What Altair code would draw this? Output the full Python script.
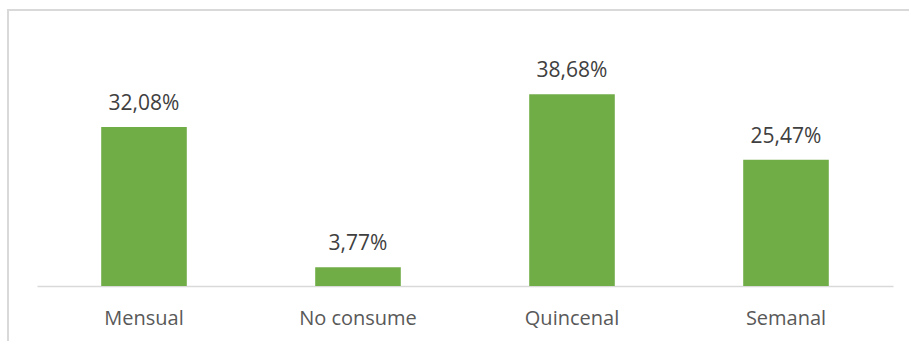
import altair as alt
import pandas as pd

categories = ["Mensual", "No consume", "Quincenal", "Semanal"]
values = [32.08, 3.77, 38.68, 25.47]
labels = ["32,08%", "3,77%", "38,68%", "25,47%"]

df = pd.DataFrame({"cat": categories, "val": values, "lab": labels})

FONT = "Open Sans"

x = alt.X("cat:N", sort=categories, title=None,
          scale=alt.Scale(paddingInner=0.6, paddingOuter=0.3),
          axis=alt.Axis(labelAngle=0, ticks=False, domainColor="#D9D9D9",
                        domainWidth=1.5, labelFont=FONT, labelFontSize=20,
                        labelColor="#595959", labelPadding=22, grid=False))
y = alt.Y("val:Q", title=None, scale=alt.Scale(domain=[0, 50], nice=False),
          axis=None)

bars = alt.Chart(df).mark_bar(color="#70AD47").encode(x=x, y=y)
text = alt.Chart(df).mark_text(font=FONT, fontSize=21, color="#404040",
                               baseline="alphabetic", dy=-17).encode(
    x=alt.X("cat:N", sort=categories), y="val:Q", text="lab:N")

border_top = alt.Chart(df).mark_rule(color="#D9D9D9", strokeWidth=2).encode(
    x=alt.value(-29), x2=alt.value(900), y=alt.value(-28))
border_left = alt.Chart(df).mark_rule(color="#D9D9D9", strokeWidth=2).encode(
    x=alt.value(-29), y=alt.value(-29), y2=alt.value(400))

chart = alt.layer(border_top, border_left, bars, text).properties(
    width=856, height=248,
    autosize=alt.AutoSizeParams(type="none"),
    padding={"left": 37, "top": 38, "right": 16, "bottom": 55},
    background="white",
).configure_view(stroke=None)

chart.save("out.html", embed_options={"renderer": "svg", "actions": False})
